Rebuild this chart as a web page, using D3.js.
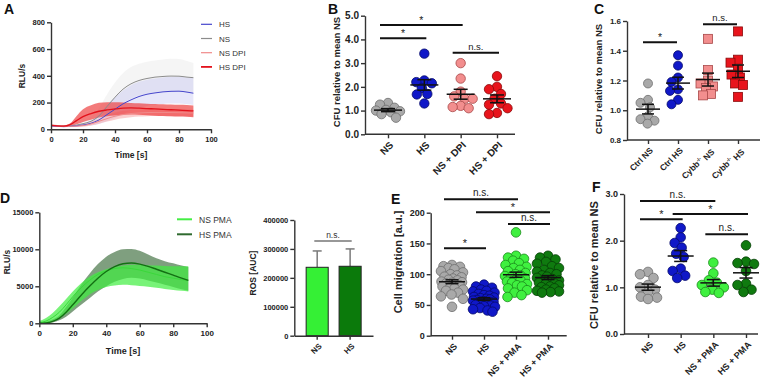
<!DOCTYPE html>
<html>
<head>
<meta charset="utf-8">
<script src="https://cdn.jsdelivr.net/npm/d3@7"></script>
<style>
body { margin: 0; background: #fff; }
svg { display: block; font-family: "Liberation Sans", Arial, sans-serif; }
</style>
</head>
<body>
<svg></svg>
<script>
// ---------- data ----------
// A: luminol kinetics (RLU/s)
const timeA = [0, 4, 8, 12, 16, 20, 25, 30, 35, 40, 45, 50, 55, 60, 65, 70, 75, 80, 85, 89]
const nsMeanA = [28, 24, 22, 25, 32, 42, 60, 100, 170, 240, 300, 340, 365, 380, 390, 395, 398, 397, 390, 386]
const nsHighA = [35, 30, 28, 32, 42, 60, 95, 160, 260, 350, 420, 465, 490, 505, 515, 522, 528, 525, 510, 495]
const nsLowA = [22, 18, 17, 20, 24, 30, 40, 55, 90, 140, 190, 230, 255, 265, 275, 280, 282, 282, 278, 275]
const hsMeanA = [25, 22, 20, 22, 26, 32, 45, 70, 110, 150, 190, 220, 245, 262, 272, 280, 284, 285, 278, 270]
const hsHighA = [32, 28, 26, 28, 35, 45, 65, 110, 180, 240, 290, 330, 355, 370, 380, 388, 392, 392, 388, 385]
const hsLowA = [20, 17, 16, 17, 19, 22, 28, 40, 60, 85, 115, 140, 160, 175, 185, 190, 192, 192, 188, 182]
const nsDpiMeanA = [28, 24, 22, 22, 24, 28, 40, 60, 80, 98, 110, 118, 122, 125, 126, 126, 125, 124, 123, 122]
const nsDpiHighA = [34, 30, 28, 28, 32, 38, 55, 80, 105, 125, 138, 145, 150, 152, 153, 152, 151, 150, 148, 147]
const nsDpiLowA = [22, 18, 17, 17, 18, 20, 28, 42, 58, 72, 82, 90, 95, 98, 99, 99, 98, 97, 96, 95]
const hsDpiMeanA = [30, 26, 24, 35, 65, 95, 118, 135, 145, 152, 158, 160, 158, 155, 152, 149, 146, 143, 140, 137]
const hsDpiHighA = [36, 32, 30, 45, 100, 150, 180, 198, 202, 202, 200, 197, 194, 191, 189, 187, 185, 183, 181, 178]
const hsDpiLowA = [24, 20, 19, 26, 38, 55, 72, 88, 98, 104, 108, 110, 108, 105, 102, 99, 97, 95, 93, 90]
const legendA = ["HS", "NS", "NS DPI", "HS DPI"]

// B: CFU relative to mean NS
const catsB = ["NS", "HS", "NS + DPI", "HS + DPI"]
const cfuB_ns = [1.32, 1.25, 1.12, 1.03, 1.0, 0.97, 0.93, 0.85, 0.7]
const cfuB_hs = [3.4, 2.27, 2.2, 2.15, 1.95, 1.7, 1.68, 1.3]
const cfuB_nsDpi = [3.0, 2.35, 1.8, 1.6, 1.5, 1.5, 1.2, 1.15, 1.1]
const cfuB_hsDpi = [2.45, 2.0, 1.9, 1.7, 1.5, 1.3, 1.25, 1.1, 0.9, 0.85]
const sigB = [["NS", "NS + DPI", "*", 4.61], ["NS", "HS", "*", 4.05], ["NS + DPI", "HS + DPI", "n.s.", 3.44]]

// C: Ctrl vs Cybb-/-
const catsC = ["Ctrl NS", "Ctrl HS", "Cybb-/- NS", "Cybb-/- HS"]
const cfuC_ctrlNs = [1.18, 1.07, 1.05, 1.02, 0.96, 0.94, 0.93, 0.91]
const cfuC_ctrlHs = [1.37, 1.30, 1.22, 1.19, 1.14, 1.13, 1.07, 1.04]
const cfuC_cybbNs = [1.48, 1.27, 1.20, 1.18, 1.16, 1.15, 1.11, 1.10]
const cfuC_cybbHs = [1.53, 1.34, 1.32, 1.27, 1.24, 1.22, 1.18, 1.17, 1.09]
const sigC = [["Ctrl NS", "Ctrl HS", "*", 1.457], ["Cybb-/- NS", "Cybb-/- HS", "n.s.", 1.578]]

// D: PMA kinetics
const timeD = [0, 4, 8, 12, 16, 20, 25, 30, 35, 40, 45, 50, 55, 60, 65, 70, 75, 80, 85, 89]
const hsMeanD = [0, 50, 250, 700, 1500, 2500, 3800, 5000, 6100, 7000, 7650, 8050, 8150, 8000, 7700, 7300, 6900, 6500, 6100, 5800]
const hsHighD = [100, 200, 500, 1100, 2200, 3500, 5200, 6700, 8000, 9000, 9650, 10000, 10050, 9800, 9300, 8800, 8400, 8100, 7800, 7600]
const hsLowD = [0, 0, 100, 400, 900, 1600, 2500, 3400, 4300, 5000, 5600, 6000, 6150, 6050, 5800, 5500, 5200, 4900, 4600, 4400]
const nsMeanD = [100, 300, 800, 1500, 2500, 3600, 4800, 5800, 6600, 7100, 7400, 7500, 7400, 7200, 6900, 6600, 6300, 6100, 5900, 5800]
const nsHighD = [300, 700, 1400, 2300, 3300, 4300, 5400, 6300, 6900, 7300, 7600, 7800, 7900, 7900, 7850, 7800, 7750, 7700, 7700, 7700]
const nsLowD = [0, 50, 300, 700, 1300, 2000, 3000, 3900, 4500, 4900, 5100, 5200, 5150, 5050, 4950, 4800, 4650, 4500, 4400, 4300]
const legendD = ["NS PMA", "HS PMA"]

// ROS AUC bars
const rosCats = ["NS", "HS"]
const rosMean = [236500, 240000]
const rosErr = [56500, 60000]

// E: cell migration
const catsE = ["NS", "HS", "NS + PMA", "HS + PMA"]
const migE_ns = [115, 113, 112, 110, 108, 105, 103, 100, 98, 96, 95, 93, 91, 90, 88, 87, 86, 85, 84, 82, 80, 78, 77, 75, 73, 70, 67, 64, 60, 47]
const migE_hs = [83, 80, 78, 75, 73, 72, 70, 68, 66, 65, 63, 62, 61, 60, 59, 58, 57, 56, 55, 54, 52, 50, 49, 48, 47, 45, 43, 41, 39]
const migE_nsPma = [168, 130, 127, 125, 122, 118, 115, 112, 110, 107, 105, 102, 100, 98, 97, 95, 93, 91, 90, 88, 86, 84, 82, 80, 77, 74, 70, 66, 63]
const migE_hsPma = [130, 127, 124, 120, 117, 113, 110, 107, 104, 102, 100, 98, 96, 94, 92, 90, 89, 88, 86, 85, 84, 82, 80, 79, 77, 75, 73, 72, 71, 70]
const sigE = [["NS", "NS + PMA", "n.s.", 222], ["HS", "HS + PMA", "*", 200.6], ["NS + PMA", "HS + PMA", "n.s.", 181.6], ["NS", "HS", "*", 142]]

// F: CFU with PMA
const catsF = ["NS", "HS", "NS + PMA", "HS + PMA"]
const cfuF_ns = [1.33, 1.28, 1.2, 1.05, 1.0, 0.95, 0.9, 0.8, 0.78, 0.75]
const cfuF_hs = [2.27, 2.07, 1.95, 1.85, 1.72, 1.65, 1.4, 1.35, 1.25, 1.2]
const cfuF_nsPma = [1.53, 1.3, 1.15, 1.1, 1.05, 1.0, 0.95, 0.9, 0.88]
const cfuF_hsPma = [1.9, 1.55, 1.52, 1.5, 1.35, 1.08, 1.05, 0.95, 0.9]
const sigF = [["NS", "NS + PMA", "n.s.", 2.85], ["HS", "HS + PMA", "*", 2.57], ["NS", "HS", "*", 2.46], ["NS + PMA", "HS + PMA", "n.s.", 2.14]]

// ---------- colours ----------
const gray = {fill: "#a9a9a9", stroke: "#6e6e6e"}
const blue = {fill: "#1018c8", stroke: "#050a6a"}
const pink = {fill: "#f28e8e", stroke: "#a84848"}
const red = {fill: "#e8141c", stroke: "#8a0a0a"}
const lgreen = {fill: "#3ff03f", stroke: "#1c8a1c"}
const dgreen = {fill: "#0f7a0f", stroke: "#063f06"}

const width = 768, height = 385
const svg = d3.select("svg")
    .attr("viewBox", [0, 0, width, height])
    .attr("width", width)
    .attr("height", height)

function styleAxis(g, fs) {
    g.attr("font-family", null).attr("font-size", fs).attr("font-weight", "bold")
    g.select(".domain").attr("stroke", "#333").attr("stroke-width", 1.4)
    g.selectAll(".tick line").attr("stroke", "#333").attr("stroke-width", 1.4)
    g.selectAll(".tick text").attr("fill", "#222")
}

function leftAxis(y, x0, ticks, fs, fmt) {
    const ax = d3.axisLeft(y).tickValues(ticks).tickSize(4).tickSizeOuter(0).tickPadding(2)
    if (fmt) ax.tickFormat(fmt)
    svg.append("g").attr("transform", `translate(${x0},0)`).call(ax).call(g => styleAxis(g, fs))
}

function catAxis(x, y0, xs, xe, fs) {
    const g = svg.append("g").attr("transform", `translate(0,${y0})`)
        .call(d3.axisBottom(x).tickSize(4).tickSizeOuter(0))
        .call(g => styleAxis(g, fs))
    g.select(".domain").attr("d", `M${xs},0H${xe}`)
    g.selectAll(".tick text")
        .attr("x", 0).attr("y", 0).attr("dy", "0.35em")
        .attr("text-anchor", "end")
        .attr("transform", "translate(3,9) rotate(-45)")
    return g
}

function yTitle(x, y, text, fs) {
    svg.append("text")
        .attr("transform", `translate(${x},${y}) rotate(-90)`)
        .attr("text-anchor", "middle")
        .attr("font-size", fs).attr("font-weight", "bold").attr("fill", "#222")
        .text(text)
}

function panelLetter(x, y, t) {
    svg.append("text").attr("x", x).attr("y", y)
        .attr("font-size", 14).attr("font-weight", "bold").attr("fill", "#111")
        .text(t)
}

function sigBars(x, y, list, fs, dx1 = -6, dx2 = 4) {
    const g = svg.append("g")
    for (const [a, b, lab, v] of list) {
        const x1 = x(a) + dx1, x2 = x(b) + dx2, yy = y(v)
        g.append("line").attr("x1", x1).attr("x2", x2).attr("y1", yy).attr("y2", yy)
            .attr("stroke", "#111").attr("stroke-width", 2)
        g.append("text").attr("x", (x1 + x2) / 2).attr("y", lab === "*" ? yy - 1 : yy - 3)
            .attr("text-anchor", "middle").attr("font-size", lab === "*" ? fs + 1 : fs)
            .attr("fill", "#222").text(lab)
    }
}

// beeswarm inside a limited width: dots may overlap, like the prism scatter
function swarm(values, y, cx, r, maxw, f) {
    const placed = []
    const offs = d3.range(-maxw, maxw + 0.01, 0.5).sort((a, b) => Math.abs(a) - Math.abs(b))
    const pts = values.map(v => ({v, y: y(v)})).sort((a, b) => a.y - b.y)
    for (const p of pts) {
        let best = 0, bestD = -1
        for (const off of offs) {
            const dmin = placed.length ? d3.min(placed, q => Math.hypot(q.x - (cx + off), q.y - p.y)) : Infinity
            if (dmin >= 2 * r * f) { best = off; bestD = Infinity; break }
            if (dmin > bestD + 0.3) { bestD = dmin; best = off }
        }
        p.x = cx + best
        placed.push(p)
    }
    return placed
}

function dotGroups(x, y, cats, groups, colors, r, half, maxw, shape = "circle") {
    const g = svg.append("g")
    cats.forEach((c, i) => {
        const pts = swarm(groups[i], y, x(c), r, maxw, 0.85)
        const col = colors[i]
        if (shape === "square") {
            g.append("g").selectAll("rect").data(pts).join("rect")
                .attr("x", d => d.x - r).attr("y", d => d.y - r)
                .attr("width", 2 * r).attr("height", 2 * r)
                .attr("fill", col.fill).attr("stroke", col.stroke).attr("stroke-width", 0.8)
        } else {
            g.append("g").selectAll("circle").data(pts).join("circle")
                .attr("cx", d => d.x).attr("cy", d => d.y).attr("r", r)
                .attr("fill", col.fill).attr("stroke", col.stroke).attr("stroke-width", 0.8)
        }
        // mean +- SEM
        const m = d3.mean(groups[i])
        const sem = d3.deviation(groups[i]) / Math.sqrt(groups[i].length)
        const cx = x(c)
        const e = g.append("g").attr("stroke", "#111").attr("stroke-width", 1.5)
        e.append("line").attr("x1", cx - half).attr("x2", cx + half).attr("y1", y(m)).attr("y2", y(m))
        e.append("line").attr("x1", cx).attr("x2", cx).attr("y1", y(m - sem)).attr("y2", y(m + sem))
        for (const v of [m - sem, m + sem]) {
            e.append("line").attr("x1", cx - half / 2).attr("x2", cx + half / 2).attr("y1", y(v)).attr("y2", y(v))
        }
    })
}

function band(x, y, times, lo, hi) {
    return d3.area()
        .x((d, i) => x(times[i]))
        .y0((d, i) => y(lo[i]))
        .y1((d, i) => y(hi[i]))
        .curve(d3.curveMonotoneX)(times)
}

function meanLine(x, y, times, vals) {
    return d3.line()
        .x((d, i) => x(times[i]))
        .y((d, i) => y(vals[i]))
        .curve(d3.curveMonotoneX)(times)
}

// ---------- A ----------
const xA = d3.scaleLinear().domain([0, 100]).range([51, 211])
const yA = d3.scaleLinear().domain([0, 800]).range([129.3, 22.3])
const seriesA = [
    {lo: nsLowA, hi: nsHighA, mean: nsMeanA, band: "rgba(225,225,225,0.35)", line: "#8c8c8c", w: 1},
    {lo: hsLowA, hi: hsHighA, mean: hsMeanA, band: "rgba(180,180,238,0.32)", line: "#4646cc", w: 1},
    {lo: nsDpiLowA, hi: nsDpiHighA, mean: nsDpiMeanA, band: "rgba(248,175,175,0.6)", line: "#f08a8a", w: 1},
    {lo: hsDpiLowA, hi: hsDpiHighA, mean: hsDpiMeanA, band: "rgba(238,60,60,0.68)", line: "#e3121c", w: 1.3},
]
const gA = svg.append("g")
seriesA.forEach(s => gA.append("path").attr("d", band(xA, yA, timeA, s.lo, s.hi)).attr("fill", s.band))
seriesA.forEach(s => gA.append("path").attr("d", meanLine(xA, yA, timeA, s.mean))
    .attr("fill", "none").attr("stroke", s.line).attr("stroke-width", s.w))
leftAxis(yA, 51, [0, 200, 400, 600, 800], 7.5)
svg.append("g").attr("transform", "translate(0,129.3)")
    .call(d3.axisBottom(xA).tickValues([0, 20, 40, 60, 80, 100]).tickSize(4).tickSizeOuter(0))
    .call(g => styleAxis(g, 7.5))
yTitle(25, 76, "RLU/s", 8.5)
svg.append("text").attr("x", 131).attr("y", 158).attr("text-anchor", "middle")
    .attr("font-size", 8.5).attr("font-weight", "bold").attr("fill", "#222").text("Time [s]")
const legColA = ["#4646cc", "#8c8c8c", "#f08a8a", "#e3121c"]
legendA.forEach((t, i) => {
    const yy = 24.3 + i * 14.2
    svg.append("line").attr("x1", 201).attr("x2", 212).attr("y1", yy).attr("y2", yy)
        .attr("stroke", legColA[i]).attr("stroke-width", i === 3 ? 1.8 : 1.2)
    svg.append("text").attr("x", 219).attr("y", yy + 3).attr("font-size", 8).attr("fill", "#333").text(t)
})
panelLetter(4, 14, "A")

// ---------- B ----------
const xB = d3.scalePoint().domain(catsB).range([388, 497])
const yB = d3.scaleLinear().domain([0, 5]).range([134.3, 15.7])
dotGroups(xB, yB, catsB, [cfuB_ns, cfuB_hs, cfuB_nsDpi, cfuB_hsDpi], [gray, blue, pink, red], 4.7, 14, 12)
leftAxis(yB, 365, [0, 1, 2, 3, 4, 5], 10)
catAxis(xB, 134.3, 365, 515, 10)
yTitle(340, 72, "CFU relative to mean NS", 9.5)
sigBars(xB, yB, sigB, 9.5, -8, 2)
panelLetter(328, 14, "B")

// ---------- C ----------
const xC = d3.scalePoint().domain(catsC).range([648, 738])
const yC = d3.scaleLinear().domain([0.8, 1.6]).range([140, 21])
dotGroups(xC, yC, catsC.slice(0, 2), [cfuC_ctrlNs, cfuC_ctrlHs], [gray, blue], 4.5, 12, 10)
dotGroups(xC, yC, catsC.slice(2), [cfuC_cybbNs, cfuC_cybbHs], [pink, red], 4.5, 12, 10, "square")
leftAxis(yC, 627, [0.8, 1.0, 1.2, 1.4, 1.6], 8, d3.format(".1f"))
const axC = catAxis(xC, 140, 627, 760, 8.5)
axC.selectAll(".tick text").each(function (d) {
    const parts = d.split("-/-")
    if (parts.length < 2) return
    const t = d3.select(this).text(null)
    t.append("tspan").text(parts[0])
    t.append("tspan").attr("font-size", 5).attr("dy", "-0.6em").text("-/-")
    t.append("tspan").attr("dy", "0.6em").text(parts[1])
})
yTitle(602, 79, "CFU relative to mean NS", 9.5)
sigBars(xC, yC, sigC, 9.5, -5, -1)
panelLetter(594, 14, "C")

// ---------- D ----------
const xD = d3.scaleLinear().domain([0, 100]).range([39.3, 206.7])
const yD = d3.scaleLinear().domain([0, 15000]).range([323.3, 212.3])
const gD = svg.append("g")
gD.append("path").attr("d", band(xD, yD, timeD, hsLowD, hsHighD)).attr("fill", "rgba(58,108,58,0.65)")
gD.append("path").attr("d", band(xD, yD, timeD, nsLowD, nsHighD)).attr("fill", "rgba(62,238,62,0.7)")
gD.append("path").attr("d", meanLine(xD, yD, timeD, nsMeanD)).attr("fill", "none").attr("stroke", "#3ad83a").attr("stroke-width", 1)
gD.append("path").attr("d", meanLine(xD, yD, timeD, hsMeanD)).attr("fill", "none").attr("stroke", "#137013").attr("stroke-width", 1.4)
leftAxis(yD, 39.3, [0, 5000, 10000, 15000], 7.5, d3.format("d"))
svg.append("g").attr("transform", "translate(0,323.3)")
    .call(d3.axisBottom(xD).tickValues([0, 20, 40, 60, 80, 100]).tickSize(4).tickSizeOuter(0))
    .call(g => styleAxis(g, 8))
yTitle(10, 262, "RLU/s", 8.5)
svg.append("text").attr("x", 123).attr("y", 354).attr("text-anchor", "middle")
    .attr("font-size", 9).attr("font-weight", "bold").attr("fill", "#222").text("Time [s]")
const legColD = ["#44ee44", "#2f6a2f"]
legendD.forEach((t, i) => {
    const yy = 219.3 + i * 15
    svg.append("line").attr("x1", 177).attr("x2", 192).attr("y1", yy).attr("y2", yy)
        .attr("stroke", legColD[i]).attr("stroke-width", 2)
    svg.append("text").attr("x", 199).attr("y", yy + 3.3).attr("font-size", 8.5).attr("fill", "#333").text(t)
})
panelLetter(0, 203, "D")

// ---------- ROS bars ----------
const xR = d3.scaleBand().domain(rosCats).range([294.3, 373]).paddingInner(0.33).paddingOuter(0.36)
const yR = d3.scaleLinear().domain([0, 400000]).range([335.7, 220])
const rosCol = ["#35f035", "#0b7a0b"]
const gR = svg.append("g")
gR.selectAll("line.err").data(rosCats).join("line")
    .attr("x1", d => xR(d) + xR.bandwidth() / 2).attr("x2", d => xR(d) + xR.bandwidth() / 2)
    .attr("y1", (d, i) => yR(rosMean[i])).attr("y2", (d, i) => yR(rosMean[i] + rosErr[i]))
    .attr("stroke", "#7a7a7a").attr("stroke-width", 1.5)
gR.selectAll("line.cap").data(rosCats).join("line")
    .attr("x1", d => xR(d) + xR.bandwidth() / 2 - 4.5).attr("x2", d => xR(d) + xR.bandwidth() / 2 + 4.5)
    .attr("y1", (d, i) => yR(rosMean[i] + rosErr[i])).attr("y2", (d, i) => yR(rosMean[i] + rosErr[i]))
    .attr("stroke", "#7a7a7a").attr("stroke-width", 1.5)
gR.selectAll("rect").data(rosCats).join("rect")
    .attr("x", d => xR(d)).attr("width", xR.bandwidth())
    .attr("y", (d, i) => yR(rosMean[i])).attr("height", (d, i) => yR(0) - yR(rosMean[i]))
    .attr("fill", (d, i) => rosCol[i]).attr("stroke", "#222").attr("stroke-width", 1)
leftAxis(yR, 294.3, [0, 100000, 200000, 300000, 400000], 7.5, d3.format("d"))
const axR = svg.append("g").attr("transform", "translate(0,335.7)")
    .call(d3.axisBottom(xR).tickSize(4).tickSizeOuter(0))
    .call(g => styleAxis(g, 8))
axR.selectAll(".tick text").attr("x", 0).attr("y", 0).attr("dy", "0.35em")
    .attr("text-anchor", "end").attr("transform", "translate(3,9) rotate(-45)")
yTitle(256, 273, "ROS [AUC]", 8.5)
svg.append("line").attr("x1", 314.3).attr("x2", 351.7).attr("y1", 241).attr("y2", 241)
    .attr("stroke", "#333").attr("stroke-width", 1.2)
svg.append("text").attr("x", 333).attr("y", 238).attr("text-anchor", "middle")
    .attr("font-size", 8.5).attr("fill", "#333").text("n.s.")

// ---------- E ----------
const xE = d3.scalePoint().domain(catsE).range([452, 548])
const yE = d3.scaleLinear().domain([0, 200]).range([335.7, 212.7])
dotGroups(xE, yE, catsE, [migE_ns, migE_hs, migE_nsPma, migE_hsPma], [gray, blue, lgreen, dgreen], 4.8, 13, 11)
leftAxis(yE, 430.7, [0, 50, 100, 150, 200], 9)
catAxis(xE, 335.7, 430.7, 566.7, 9)
yTitle(402, 262, "Cell migration [a.u.]", 11)
sigBars(xE, yE, sigE, 10, -8, 2)
panelLetter(391, 204, "E")

// ---------- F ----------
const xF = d3.scalePoint().domain(catsF).range([648, 746])
const yF = d3.scaleLinear().domain([0, 3]).range([334, 194])
dotGroups(xF, yF, catsF, [cfuF_ns, cfuF_hs, cfuF_nsPma, cfuF_hsPma], [gray, blue, lgreen, dgreen], 4.8, 13, 12)
leftAxis(yF, 624, [0, 1, 2, 3], 9)
catAxis(xF, 334, 624, 758, 9)
yTitle(598, 265, "CFU relative to mean NS", 11)
sigBars(xF, yF, sigF, 10, -8, 2)
panelLetter(592, 192, "F")
</script>
</body>
</html>
